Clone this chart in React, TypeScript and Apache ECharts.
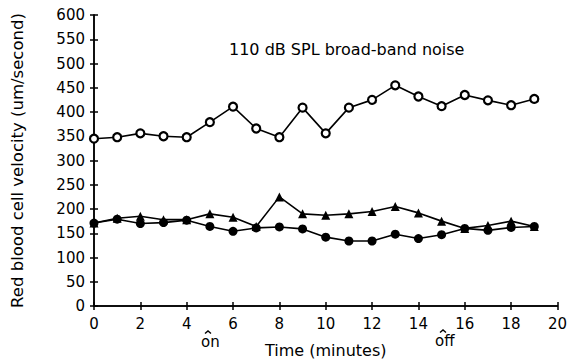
import React, { useEffect, useRef } from "react";
import * as echarts from "echarts";

const minutes = [0, 1, 2, 3, 4, 5, 6, 7, 8, 9, 10, 11, 12, 13, 14, 15, 16, 17, 18, 19];
const openCircle = [345, 348, 356, 350, 348, 379, 411, 366, 348, 409, 356, 409, 425, 455, 432, 412, 435, 424, 414, 427];
const triangle = [171, 181, 185, 178, 178, 190, 183, 164, 225, 190, 187, 190, 195, 205, 192, 175, 160, 166, 175, 164];
const filledCircle = [171, 179, 170, 172, 177, 164, 154, 161, 163, 159, 142, 134, 134, 148, 139, 147, 160, 156, 162, 164];
const yTicks = [0, 50, 100, 150, 200, 250, 300, 350, 400, 450, 500, 550, 600];

const FONT = "DejaVu Sans";

export default function App() {
  const ref = useRef<HTMLDivElement>(null);
  useEffect(() => {
    const chart = echarts.init(ref.current!, null, { renderer: "svg" });
    const pair = (arr: number[]) => minutes.map((m, i) => [m, arr[i]]);
    const axisLine = { show: true, lineStyle: { color: "#000", width: 1.5 } };
    const xBase = {
      type: "value",
      min: 0,
      max: 20,
      interval: 2,
      axisLine,
      splitLine: { show: false },
    };
    const yBase = {
      type: "value",
      min: 0,
      max: 600,
      interval: 50,
      axisLine,
      splitLine: { show: false },
    };
    const caret = (cx: number, cy: number) => ({
      type: "polyline",
      shape: { points: [[cx - 3, cy + 2.5], [cx, cy], [cx + 3, cy + 2.5]] },
      style: { stroke: "#000", lineWidth: 1.4, fill: "none" },
    });
    chart.setOption({
      animation: false,
      backgroundColor: "#fff",
      textStyle: { fontFamily: FONT },
      grid: { left: 94, right: 5, top: 15, bottom: 55 },
      title: {
        text: "110 dB SPL broad-band noise",
        left: 224,
        top: 36,
        textStyle: { fontFamily: FONT, fontSize: 16, fontWeight: "normal", color: "#000" },
      },
      xAxis: [
        {
          ...xBase,
          position: "bottom",
          name: "Time (minutes)",
          nameLocation: "middle",
          nameGap: 36,
          nameTextStyle: { fontFamily: FONT, fontSize: 16, color: "#000" },
          axisTick: { show: true, length: 4, lineStyle: { color: "#000", width: 1.5 } },
          axisLabel: { fontFamily: FONT, fontSize: 15, color: "#000", margin: 10 },
        },
        {
          ...xBase,
          position: "bottom",
          axisTick: { show: true, inside: true, length: 4, lineStyle: { color: "#000", width: 1.5 } },
          axisLabel: { show: false },
        },
      ],
      yAxis: [
        {
          ...yBase,
          position: "left",
          name: "Red blood cell velocity (um/second)",
          nameLocation: "middle",
          nameGap: 68,
          nameTextStyle: { fontFamily: FONT, fontSize: 16.5, color: "#000" },
          axisTick: { show: true, length: 4, lineStyle: { color: "#000", width: 1.5 } },
          axisLabel: {
            fontFamily: FONT,
            fontSize: 15,
            color: "#000",
            margin: 9,
            formatter: (v: number) => (yTicks.includes(v) ? String(v) : ""),
          },
        },
        {
          ...yBase,
          position: "left",
          axisTick: { show: true, inside: true, length: 4, lineStyle: { color: "#000", width: 1.5 } },
          axisLabel: { show: false },
        },
      ],
      graphic: [
        caret(208, 331),
        { type: "text", left: 201, top: 334, style: { text: "on", fontFamily: FONT, fontSize: 15, fill: "#000" } },
        caret(443, 330),
        { type: "text", left: 435, top: 333, style: { text: "off", fontFamily: FONT, fontSize: 15, fill: "#000" } },
      ],
      series: [
        {
          type: "line",
          data: pair(openCircle),
          symbol: "circle",
          symbolSize: 8,
          itemStyle: { color: "#fff", borderColor: "#000", borderWidth: 2.2 },
          lineStyle: { color: "#000", width: 1.6 },
        },
        {
          type: "line",
          data: pair(triangle),
          symbol: "triangle",
          symbolSize: 9,
          itemStyle: { color: "#000" },
          lineStyle: { color: "#000", width: 1.6 },
        },
        {
          type: "line",
          data: pair(filledCircle),
          symbol: "circle",
          symbolSize: 9,
          itemStyle: { color: "#000" },
          lineStyle: { color: "#000", width: 1.6 },
        },
      ],
    });
    return () => chart.dispose();
  }, []);
  return <div ref={ref} style={{ width: 570, height: 363, position: "fixed", left: 0, top: 0 }} />;
}
